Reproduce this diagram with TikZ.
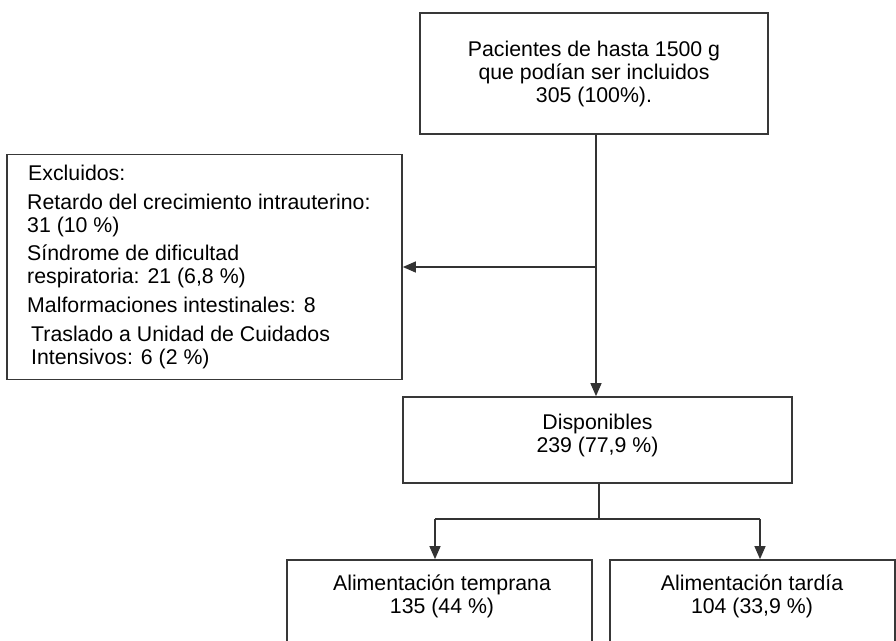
\documentclass[tikz,border=0pt]{standalone}
\usepackage{fontspec}
\setmainfont{Liberation Sans}
\usetikzlibrary{arrows.meta}
\begin{document}
\begin{tikzpicture}[x=1pt,y=-1pt,
  box/.style={draw=black!78, line width=1.7pt, inner sep=0pt},
  conn/.style={draw=black!80, line width=1.3pt},
  arr/.style={conn, -{Triangle[length=13pt,width=11pt]}},
  txt/.style={font=\fontsize{21.3}{23}\selectfont, text=black, inner sep=0pt, align=center},
  ltxt/.style={font=\fontsize{21.3}{23}\selectfont, text=black, inner sep=0pt, anchor=base west}]
\useasboundingbox (0,0) rectangle (896,640);
\begin{scope}
\clip (0,0) rectangle (896,640);
% boxes
\node[box, minimum width=348pt, minimum height=121pt] (top) at (594,73.5) {};
\node[box, minimum width=395pt, minimum height=225pt] (excl) at (204.5,267) {};
\node[box, minimum width=389pt, minimum height=86pt] (disp) at (597.5,440) {};
\node[box, minimum width=305pt, minimum height=100pt] (early) at (439.5,610) {};
\node[box, minimum width=285pt, minimum height=100pt] (late) at (752.5,610) {};
% texts
\node[txt] (ttop) at (594,74) {Pacientes de hasta 1500 g\\que podían ser incluidos\\305 (100\%).};
\node[txt] (tdisp) at (597.5,435) {Disponibles\\239 (77,9 \%)};
\node[txt] (tearly) at (442,596) {Alimentación temprana\\135 (44 \%)};
\node[txt] (tlate) at (752,596) {Alimentación tardía\\104 (33,9 \%)};
\node[ltxt] (e1) at (28,180) {Excluidos:};
\node[ltxt] (e2) at (27,209) {Retardo del crecimiento intrauterino:};
\node[ltxt] (e3) at (27,232) {31 (10 \%)};
\node[ltxt] (e4) at (27,260) {Síndrome de dificultad};
\node[ltxt] (e5) at (27,283) {respiratoria: 21 (6,8 \%)};
\node[ltxt] (e6) at (27,312) {Malformaciones intestinales: 8};
\node[ltxt] (e7) at (31,341) {Traslado a Unidad de Cuidados};
\node[ltxt] (e8) at (31,364) {Intensivos: 6 (2 \%)};
% connectors
\coordinate (j1) at (596,267);
\draw[arr] (top.south -| j1) -- (disp.north -| j1);
\draw[arr] (j1) -- (excl.east |- j1);
\coordinate (j2) at (599,519);
\coordinate (ja) at (435,519);
\coordinate (jb) at (760,519);
\draw[conn] (disp.south -| j2) -- (j2);
\draw[conn] (ja) -- (jb);
\draw[arr] (ja) -- (early.north -| ja);
\draw[arr] (jb) -- (late.north -| jb);
\end{scope}
\end{tikzpicture}
\end{document}
